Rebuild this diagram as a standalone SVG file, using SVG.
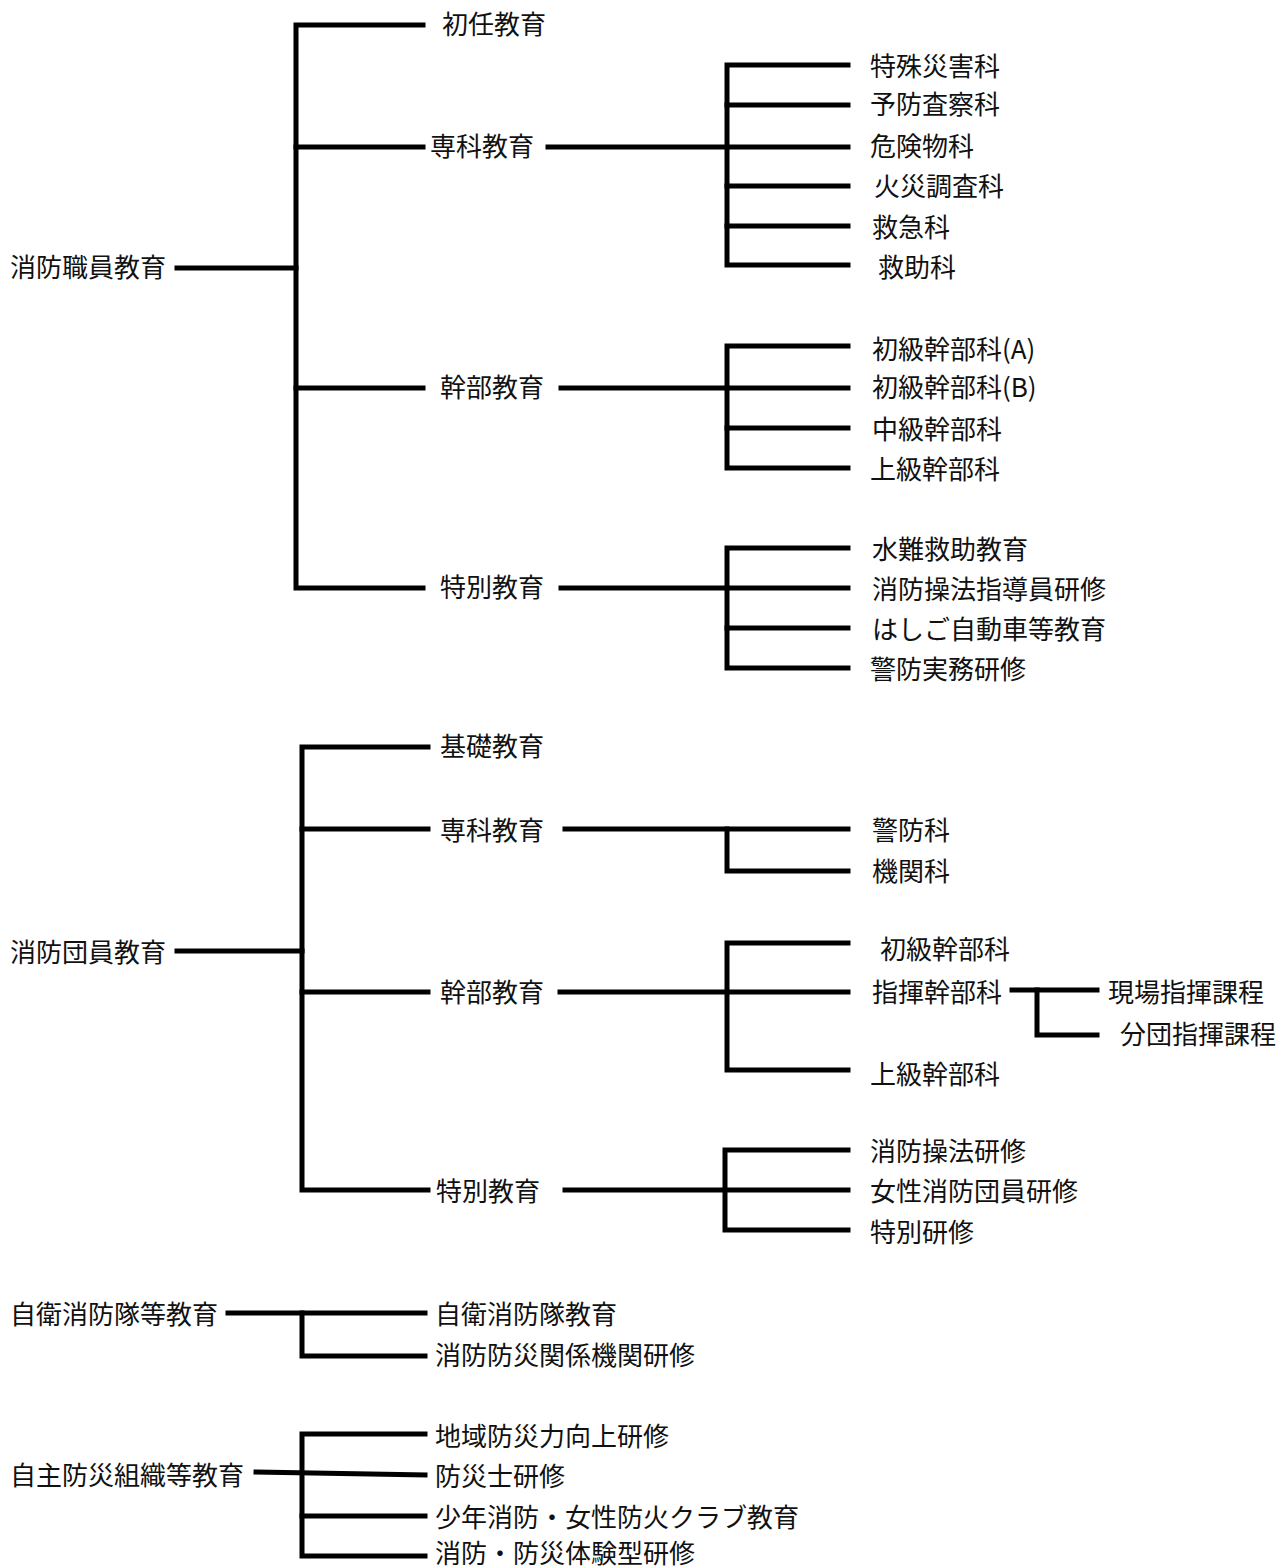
<svg xmlns="http://www.w3.org/2000/svg" width="1279" height="1568" viewBox="0 0 1279 1568">
<style>
text{font-family:"Noto Sans CJK JP","Noto Sans CJK SC",sans-serif;font-size:26px;fill:#111;}
.c line,.c polyline{stroke:#000;stroke-width:5;fill:none;stroke-linecap:square;stroke-linejoin:miter;}
</style>
<rect width="1279" height="1568" fill="#fff"/>
<g class="c" id="connectors">
<!-- section 1 -->
<line x1="177" y1="268" x2="296" y2="268"/>
<polyline points="423,25 296,25 296,588 423,588"/>
<line x1="296" y1="147" x2="423" y2="147"/>
<line x1="296" y1="388" x2="423" y2="388"/>
<line x1="548" y1="147" x2="848" y2="147"/>
<polyline points="848,65 727,65 727,265 848,265"/>
<line x1="727" y1="105" x2="848" y2="105"/>
<line x1="727" y1="186" x2="848" y2="186"/>
<line x1="727" y1="226" x2="848" y2="226"/>
<line x1="561" y1="388" x2="848" y2="388"/>
<polyline points="848,346 727,346 727,468 848,468"/>
<line x1="727" y1="428" x2="848" y2="428"/>
<line x1="561" y1="588" x2="848" y2="588"/>
<polyline points="848,548 727,548 727,668 848,668"/>
<line x1="727" y1="628" x2="848" y2="628"/>
<!-- section 2 -->
<line x1="177" y1="951" x2="302" y2="951"/>
<polyline points="428,747 302,747 302,1190 428,1190"/>
<line x1="302" y1="829" x2="428" y2="829"/>
<line x1="302" y1="992" x2="428" y2="992"/>
<line x1="565" y1="829" x2="848" y2="829"/>
<polyline points="727,829 727,871 848,871"/>
<line x1="560" y1="992" x2="848" y2="992"/>
<polyline points="848,943 727,943 727,1070 848,1070"/>
<line x1="1012" y1="990" x2="1097" y2="990"/>
<polyline points="1037,990 1037,1035 1097,1035"/>
<line x1="565" y1="1190" x2="848" y2="1190"/>
<polyline points="848,1150 725,1150 725,1230 848,1230"/>
<!-- section 3 -->
<line x1="228" y1="1313" x2="425" y2="1313"/>
<polyline points="302,1313 302,1356 425,1356"/>
<!-- section 4 -->
<line x1="256" y1="1472" x2="425" y2="1475"/>
<polyline points="425,1434 302,1434 302,1556 425,1556"/>
<line x1="302" y1="1516" x2="425" y2="1516"/>
</g>
<g id="n-shokuin"><text x="10" y="277">消防職員教育</text></g>
<g id="n-shonin"><text x="442" y="34">初任教育</text></g>
<g id="n-senka1"><text x="430" y="156">専科教育</text></g>
<g id="n-kanbu1"><text x="440" y="397">幹部教育</text></g>
<g id="n-tokubetsu1"><text x="440" y="597">特別教育</text></g>
<g id="n-s1"><text x="870" y="76">特殊災害科</text></g>
<g id="n-s2"><text x="870" y="114">予防査察科</text></g>
<g id="n-s3"><text x="870" y="156">危険物科</text></g>
<g id="n-s4"><text x="874" y="196">火災調査科</text></g>
<g id="n-s5"><text x="872" y="237">救急科</text></g>
<g id="n-s6"><text x="878" y="277">救助科</text></g>
<g id="n-k1"><text x="872" y="359">初級幹部科(A)</text></g>
<g id="n-k2"><text x="872" y="397">初級幹部科(B)</text></g>
<g id="n-k3"><text x="872" y="439">中級幹部科</text></g>
<g id="n-k4"><text x="870" y="479">上級幹部科</text></g>
<g id="n-t1"><text x="872" y="559">水難救助教育</text></g>
<g id="n-t2"><text x="872" y="599">消防操法指導員研修</text></g>
<g id="n-t3"><text x="872" y="639">はしご自動車等教育</text></g>
<g id="n-t4"><text x="870" y="679">警防実務研修</text></g>
<g id="n-danin"><text x="10" y="962">消防団員教育</text></g>
<g id="n-kiso"><text x="440" y="756">基礎教育</text></g>
<g id="n-senka2"><text x="440" y="840">専科教育</text></g>
<g id="n-kanbu2"><text x="440" y="1002">幹部教育</text></g>
<g id="n-tokubetsu2"><text x="436" y="1201">特別教育</text></g>
<g id="n-keibo"><text x="872" y="840">警防科</text></g>
<g id="n-kikan"><text x="872" y="881">機関科</text></g>
<g id="n-d1"><text x="880" y="959">初級幹部科</text></g>
<g id="n-d2"><text x="872" y="1002">指揮幹部科</text></g>
<g id="n-d3"><text x="870" y="1084">上級幹部科</text></g>
<g id="n-g1"><text x="1108" y="1002">現場指揮課程</text></g>
<g id="n-g2"><text x="1120" y="1044">分団指揮課程</text></g>
<g id="n-e1"><text x="870" y="1161">消防操法研修</text></g>
<g id="n-e2"><text x="870" y="1201">女性消防団員研修</text></g>
<g id="n-e3"><text x="870" y="1242">特別研修</text></g>
<g id="n-jiei"><text x="10" y="1324">自衛消防隊等教育</text></g>
<g id="n-j1"><text x="435" y="1324">自衛消防隊教育</text></g>
<g id="n-j2"><text x="435" y="1365">消防防災関係機関研修</text></g>
<g id="n-jishu"><text x="10" y="1485">自主防災組織等教育</text></g>
<g id="n-m1"><text x="435" y="1446">地域防災力向上研修</text></g>
<g id="n-m2"><text x="435" y="1486">防災士研修</text></g>
<g id="n-m3"><text x="435" y="1527">少年消防・女性防火クラブ教育</text></g>
<g id="n-m4"><text x="435" y="1563">消防・防災体験型研修</text></g>
</svg>
